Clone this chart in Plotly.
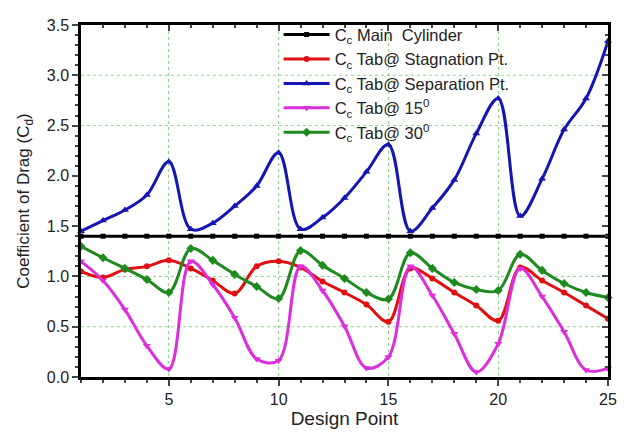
import plotly.graph_objects as go

design_point = list(range(1, 26))
cd_main = [1.40] * 25
cd_stagnation = [1.05, 0.99, 1.07, 1.10, 1.16, 1.08, 0.96, 0.83, 1.10, 1.15,
                 1.09, 0.95, 0.84, 0.72, 0.55, 1.08, 0.98, 0.84, 0.71, 0.56,
                 1.09, 0.96, 0.84, 0.71, 0.58]
cd_separation = [1.45, 1.555, 1.66, 1.81, 2.14, 1.47, 1.53, 1.70, 1.90, 2.23,
                 1.47, 1.585, 1.78, 2.04, 2.31, 1.45, 1.68, 1.96, 2.42, 2.77,
                 1.60, 1.97, 2.46, 2.77, 3.34]
cd_tab15 = [1.15, 0.96, 0.67, 0.31, 0.08, 1.15, 0.92, 0.59, 0.18, 0.165,
            1.10, 0.86, 0.505, 0.09, 0.20, 1.10, 0.81, 0.43, 0.05, 0.33,
            1.08, 0.80, 0.45, 0.07, 0.085]
cd_tab30 = [1.30, 1.186, 1.08, 0.97, 0.84, 1.277, 1.16, 1.02, 0.90, 0.78,
            1.257, 1.11, 0.98, 0.84, 0.775, 1.235, 1.08, 0.94, 0.87, 0.86,
            1.22, 1.06, 0.93, 0.84, 0.79]

names = ["C<sub>c</sub> Main\u00a0 Cylinder",
         "C<sub>c</sub> Tab@ Stagnation Pt.",
         "C<sub>c</sub> Tab@ Separation Pt.",
         "C<sub>c</sub> Tab@ 15<sup>0</sup>",
         "C<sub>c</sub> Tab@ 30<sup>0</sup>"]
x_ticks = [5, 10, 15, 20, 25]
grid_y = [0.5, 1.0, 2.5, 3.0]

grid_color = "#8fd88f"
fig = go.Figure()

series = [
    (cd_main, names[0], "#000000", "square", 5, "x2", "y2"),
    (cd_stagnation, names[1], "#e01010", "circle", 6, "x", "y"),
    (cd_separation, names[2], "#1515b5", "triangle-up", 7, "x", "y"),
    (cd_tab15, names[3], "#dd2edd", "triangle-down", 7, "x", "y"),
    (cd_tab30, names[4], "#1f8a1f", "diamond", 7, "x", "y"),
]
for vals, nm, col, sym, sz, xa, ya in series:
    fig.add_trace(go.Scatter(
        x=design_point, y=vals, name=nm, mode="lines+markers",
        line=dict(color=col, width=3, shape="spline", smoothing=1.0),
        marker=dict(color=col, symbol=sym, size=sz),
        xaxis=xa, yaxis=ya, cliponaxis=False))

for gy in grid_y:
    fig.add_shape(type="line", xref="paper", yref="y", x0=0, x1=1, y0=gy, y1=gy,
                  line=dict(color=grid_color, width=1, dash="dot"), layer="below")

font = "Liberation Sans, Arial, sans-serif"
fig.update_layout(
    width=618, height=429,
    margin=dict(l=73, r=9, t=9, b=60),
    plot_bgcolor="white", paper_bgcolor="white",
    font=dict(family=font, color="#222222"),
    showlegend=True,
    legend=dict(x=0.375, y=1.022, xanchor="left", yanchor="top", itemwidth=46,
                bgcolor="rgba(0,0,0,0)", font=dict(size=16.5, family=font, color="#222222"),
                tracegroupgap=0),
    xaxis=dict(range=[1, 25], tickvals=x_ticks, ticks="outside", ticklen=6, tickwidth=2,
               showline=True, linewidth=2.5, linecolor="black", mirror=True,
               showgrid=True, gridcolor=grid_color, griddash="dot", gridwidth=1,
               zeroline=False, tickfont=dict(size=16), ticklabelstandoff=0,
               minor=dict(ticks="outside", ticklen=3, tickwidth=1.5, dtick=1, tick0=0, showgrid=False),
               title=dict(text="Design Point", font=dict(size=19), standoff=0)),
    yaxis=dict(range=[0, 3.5], dtick=0.5, tick0=0, tickformat=".1f", ticks="outside",
               ticklen=6, tickwidth=2, showline=True, linewidth=2.5, linecolor="black",
               mirror=True, showgrid=False, zeroline=False, tickfont=dict(size=16),
               minor=dict(ticks="outside", ticklen=3, tickwidth=1.5, dtick=0.1, showgrid=False),
               title=dict(text="Coefficient of Drag (C<sub>d</sub>)", font=dict(size=17), standoff=13)),
    xaxis2=dict(range=[1, 25], overlaying="x", side="top", tickvals=x_ticks, ticks="inside",
                ticklen=6, tickwidth=2, showticklabels=False, showgrid=False, zeroline=False,
                minor=dict(ticks="inside", ticklen=3, tickwidth=1.5, dtick=1, tick0=0)),
    yaxis2=dict(range=[0, 3.5], overlaying="y", side="right", dtick=0.5, tick0=0, ticks="inside",
                ticklen=6, tickwidth=2, showticklabels=False, showgrid=False, zeroline=False,
                minor=dict(ticks="inside", ticklen=3, tickwidth=1.5, dtick=0.1)),
)

fig.write_html("out.html")
